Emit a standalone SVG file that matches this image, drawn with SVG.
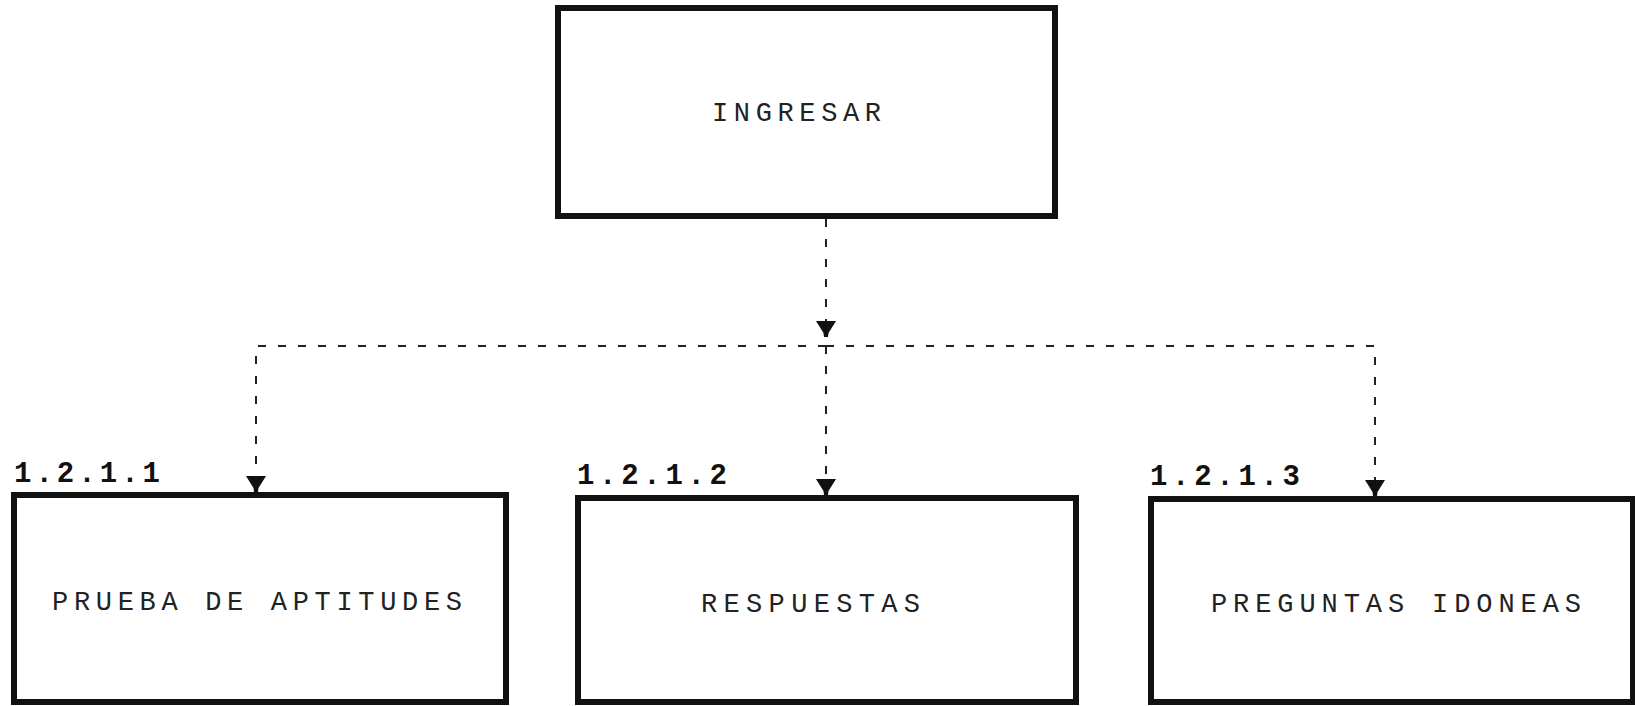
<svg xmlns="http://www.w3.org/2000/svg" width="1635" height="706" viewBox="0 0 1635 706">
<style>
.box{fill:#fff;stroke:#111;stroke-width:6}
.lbl{font-family:"Liberation Mono","DejaVu Sans Mono",monospace;font-size:27px;fill:#222}
.num{font-family:"Liberation Mono","DejaVu Sans Mono",monospace;font-size:29px;font-weight:bold;fill:#111}
.dash{fill:none;stroke:#222;stroke-width:2;stroke-dasharray:8 12}
</style>
<defs>
<marker id="arr" markerUnits="userSpaceOnUse" markerWidth="22" markerHeight="24" viewBox="-17 -12 22 24" refX="0" refY="0" orient="auto">
<path d="M-16,-10 L-16,10 L-4,2.5 L0,2 L0,-2 L-4,-2.5 Z" fill="#111"/>
</marker>
</defs>
<rect width="1635" height="706" fill="#fff"/>
<g id="connectors">
<path class="dash" d="M826,219 V337" marker-end="url(#arr)"/>
<path class="dash" d="M826,346 H256 V492" marker-end="url(#arr)"/>
<path class="dash" d="M826,346 V495" marker-end="url(#arr)"/>
<path class="dash" d="M826,346 H1375 V496" marker-end="url(#arr)"/>
</g>
<g id="n-ingresar">
<rect class="box" x="558" y="8" width="497" height="208"/>
<text class="lbl" x="712" y="121" textLength="169" lengthAdjust="spacing">INGRESAR</text>
</g>
<g id="n-1211">
<text class="num" x="14" y="482" textLength="146" lengthAdjust="spacing">1.2.1.1</text>
<rect class="box" x="14" y="495" width="492" height="207"/>
<text class="lbl" x="52" y="610" textLength="410" lengthAdjust="spacing">PRUEBA DE APTITUDES</text>
</g>
<g id="n-1212">
<text class="num" x="577" y="484" textLength="150" lengthAdjust="spacing">1.2.1.2</text>
<rect class="box" x="578" y="498" width="498" height="204"/>
<text class="lbl" x="701" y="612" textLength="219" lengthAdjust="spacing">RESPUESTAS</text>
</g>
<g id="n-1213">
<text class="num" x="1150" y="485" textLength="150" lengthAdjust="spacing">1.2.1.3</text>
<rect class="box" x="1151" y="499" width="482" height="203"/>
<text class="lbl" x="1211" y="612" textLength="370" lengthAdjust="spacing">PREGUNTAS IDONEAS</text>
</g>
</svg>
